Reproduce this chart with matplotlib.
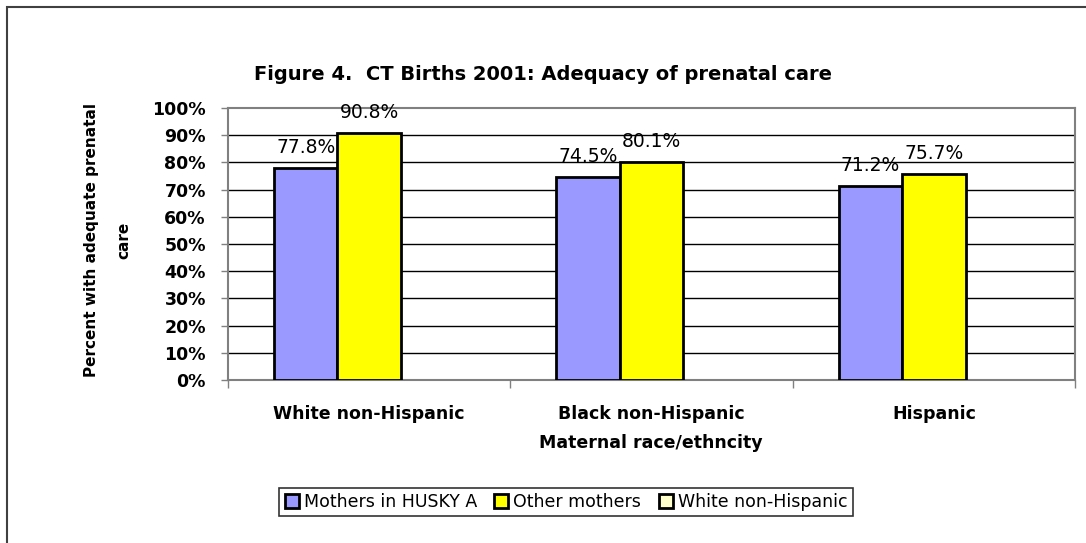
import matplotlib.pyplot as plt
from matplotlib.patches import Rectangle
import numpy as np

categories = ['White non-Hispanic', 'Black non-Hispanic', 'Hispanic']
husky_a = [77.8, 74.5, 71.2]
other_mothers = [90.8, 80.1, 75.7]
white_nh = [np.nan, np.nan, np.nan]   # series in legend only, no values

series_names = ['Mothers in HUSKY A', 'Other mothers', 'White non-Hispanic']
series_colors = ['#9999FF', '#FFFF00', '#FFFFCC']
y_ticks = list(range(0, 101, 10))

fig = plt.figure(figsize=(10.86, 5.43), dpi=100)
ax = fig.add_axes([228/1086, 1 - 380/543, (1075 - 228)/1086, (380 - 108)/543])

# outer chart frame (only top and left edges visible)
fig.patches.append(Rectangle((7/1086, -0.1), 1.2, 1 - 7/543 + 0.1,
                             transform=fig.transFigure, fill=False,
                             edgecolor='#404040', linewidth=1.5))

x = np.arange(len(categories))
w = 0.225
bars = []
for i, (vals, col) in enumerate(zip([husky_a, other_mothers, white_nh], series_colors)):
    b = ax.bar(x + (i - 1) * w, vals, w, color=col, edgecolor='black',
               linewidth=2, zorder=3)
    bars.append(b)
    for xi, v in zip(x + (i - 1) * w, vals):
        if not np.isnan(v):
            ax.annotate(f'{v:.1f}%', (xi, v), xytext=(0, 15), textcoords='offset points',
                        ha='center', va='center', fontsize=13.5, zorder=4)

ax.set_xlim(-0.5, 2.5)
ax.set_ylim(0, 100)
ax.set_yticks(y_ticks)
ax.set_yticklabels([f'{t}%' for t in y_ticks], fontweight='bold', fontsize=12.5)
ax.tick_params(axis='y', direction='out', length=5, width=1, color='#808080', pad=11)

ax.set_xticks(x)
ax.set_xticklabels(categories, fontweight='bold', fontsize=12.5)
ax.set_xticks(np.arange(-0.5, 3, 1), minor=True)
ax.tick_params(axis='x', which='major', length=0, pad=18)
ax.tick_params(axis='x', which='minor', direction='out', length=6, width=1, color='#808080')

for yv in y_ticks[1:-1]:
    ax.axhline(yv, color='black', linewidth=1, zorder=1)
for s in ax.spines.values():
    s.set_color('#808080')
    s.set_linewidth(1.5)

fig.text(0.5, 1 - 75/543, 'Figure 4.  CT Births 2001: Adequacy of prenatal care',
         ha='center', va='center', fontsize=14, fontweight='bold')
fig.text(651/1086, 1 - 443/543, 'Maternal race/ethncity', ha='center', va='center',
         fontsize=12.5, fontweight='bold')
fig.text(92/1086, 1 - 240/543, 'Percent with adequate prenatal', rotation=90,
         ha='center', va='center', fontsize=11, fontweight='bold')
fig.text(124/1086, 1 - 240/543, 'care', rotation=90,
         ha='center', va='center', fontsize=11, fontweight='bold')

leg = fig.legend([b[0] for b in bars], series_names, loc='center',
                 bbox_to_anchor=(566/1086, 1 - 502/543), ncol=3, fontsize=12.5,
                 frameon=True, fancybox=False, edgecolor='black',
                 handlelength=0.8, handleheight=0.8, handletextpad=0.3,
                 columnspacing=1.0, borderpad=0.3)
leg.get_frame().set_linewidth(1.2)

fig.savefig('out.png', dpi=100)
